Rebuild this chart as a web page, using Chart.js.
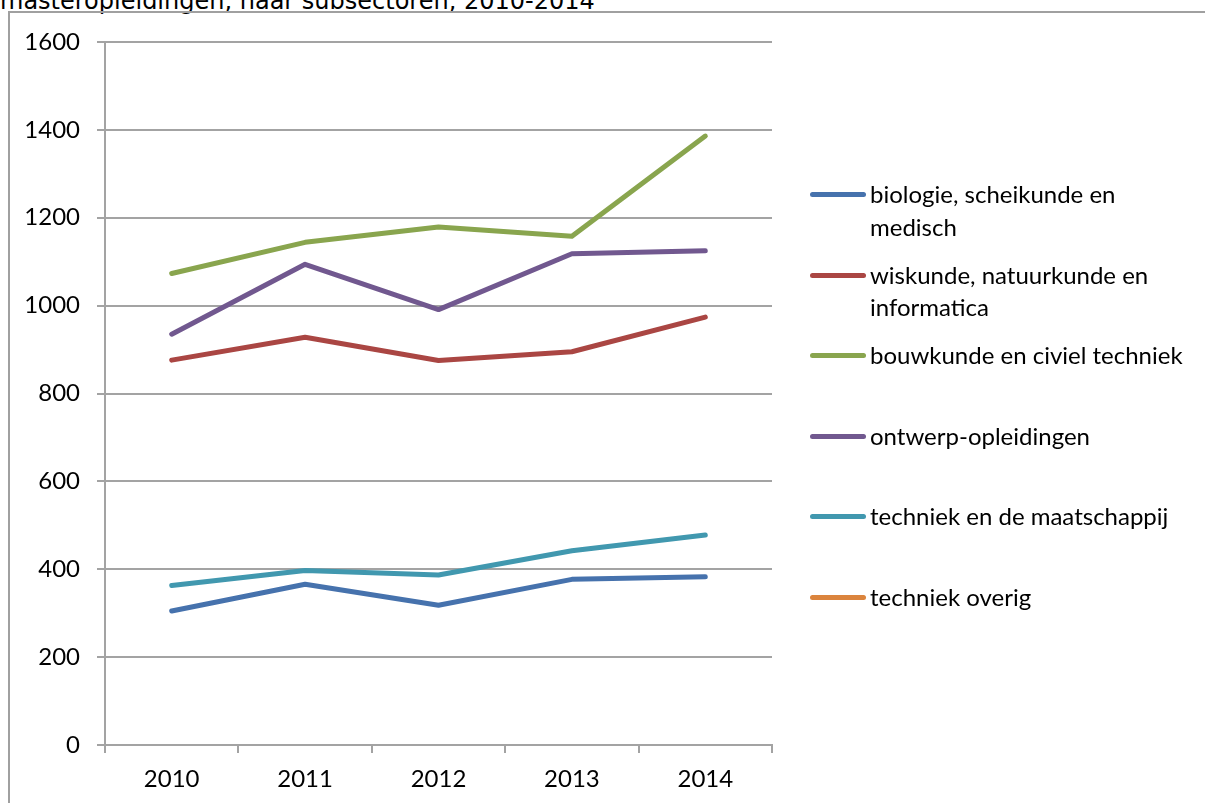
<!DOCTYPE html>
<html>
<head>
<meta charset="utf-8">
<script src="https://cdn.jsdelivr.net/npm/chart.js@4.4.1/dist/chart.umd.min.js"></script>
<style>
    html, body {
        margin: 0;
        padding: 0;
        background: #ffffff;
        overflow: hidden;
    }
    #titel {
        position: absolute;
        left: 0;
        top: -11px;
        font-family: 'DejaVu Sans', sans-serif;
        font-size: 24px;
        line-height: 24px;
        color: #000;
        white-space: nowrap;
    }
    #kader {
        position: absolute;
        left: 8px;
        top: 11px;
        width: 1400px;
        height: 1000px;
        border: 2px solid #a0a0a0;
    }
    #grafiek {
        position: absolute;
        left: 0;
        top: 0;
    }
    .legenda-item {
        position: absolute;
        left: 810px;
        font-family: Lato, sans-serif;
        font-size: 24px;
        line-height: 32.5px;
        color: #000;
    }
    .legenda-lijn {
        position: absolute;
        left: 0;
        top: 14px;
        width: 56px;
        height: 5px;
        border-radius: 3px;
    }
    .legenda-tekst {
        position: absolute;
        left: 60px;
        white-space: nowrap;
    }
</style>
</head>
<body>

<div id="titel">masteropleidingen, naar subsectoren, 2010-2014</div>
<div id="kader"></div>
<canvas id="grafiek" width="1205" height="803" style="width:1205px;height:803px"></canvas>
<div id="legenda"></div>

<script>

    const jaren = ['2010', '2011', '2012', '2013', '2014'];

    // legend labels, split where the original wraps
    const namen = [
        ['biologie, scheikunde en', 'medisch'],
        ['wiskunde, natuurkunde en', 'informatica'],
        ['bouwkunde en civiel techniek'],
        ['ontwerp-opleidingen'],
        ['techniek en de maatschappij'],
        ['techniek overig']
    ];

    const biologie = [305, 366, 318, 377, 383];
    const wiskunde = [876, 928, 875, 895, 974];
    const bouwkunde = [1073, 1144, 1179, 1158, 1386];
    const ontwerp = [935, 1094, 991, 1118, 1125];
    const maatschappij = [363, 397, 387, 442, 478];
    const overig = [null, null, null, null, null];

    const yTicks = [0, 200, 400, 600, 800, 1000, 1200, 1400, 1600];

    const kleuren = [
        '#4672ad',
        '#aa4643',
        '#89a54e',
        '#71588f',
        '#4198af',
        '#db843d'
    ];

    const reeksen = [
        biologie,
        wiskunde,
        bouwkunde,
        ontwerp,
        maatschappij,
        overig
    ];

    const rasterKleur = '#a3a3a3';

    const datasets = reeksen.map((waarden, i) => ({
        label: namen[i].join(' '),
        data: waarden,
        borderColor: kleuren[i],
        backgroundColor: kleuren[i],
        borderWidth: 5,
        borderCapStyle: 'round',
        borderJoinStyle: 'round',
        pointRadius: 0,
        tension: 0,
        fill: false
    }));

    const grafiek = new Chart(
        document.getElementById('grafiek'),
        {
            type: 'line',
            data: {
                labels: jaren,
                datasets: datasets
            },
            options: {
                responsive: false,
                animation: false,
                devicePixelRatio: 1,
                layout: {
                    padding: { top: 42, right: 433, bottom: 0, left: 0 }
                },
                plugins: {
                    legend: { display: false },
                    tooltip: { enabled: false }
                },
                scales: {
                    x: {
                        offset: true,
                        afterFit: s => { s.height = 58; },
                        grid: {
                            offset: true,
                            drawOnChartArea: false,
                            drawTicks: true,
                            tickLength: 8,
                            color: rasterKleur,
                            lineWidth: 2
                        },
                        border: {
                            display: true,
                            color: rasterKleur,
                            width: 2
                        },
                        ticks: {
                            color: '#000',
                            padding: 12,
                            maxRotation: 0,
                            font: { family: 'Lato', size: 24 }
                        }
                    },
                    y: {
                        min: 0,
                        max: 1600,
                        afterFit: s => { s.width = 105; },
                        afterBuildTicks: s => {
                            s.ticks = yTicks.map(v => ({ value: v }));
                        },
                        grid: {
                            color: rasterKleur,
                            lineWidth: 2,
                            drawTicks: true,
                            tickLength: 8
                        },
                        border: {
                            display: true,
                            color: rasterKleur,
                            width: 2
                        },
                        ticks: {
                            color: '#000',
                            padding: 17,
                            font: { family: 'Lato', size: 24 },
                            callback: v => String(v)
                        }
                    }
                }
            }
        }
    );

    // legend on the right, drawn as html so the labels can wrap
    const legenda = document.getElementById('legenda');

    grafiek.data.datasets.forEach((ds, i) => {

        const item = document.createElement('div');
        item.className = 'legenda-item';
        item.style.top = (194.3 + i * 80.5 - 16.25) + 'px';

        const lijn = document.createElement('span');
        lijn.className = 'legenda-lijn';
        lijn.style.background = ds.borderColor;

        const tekst = document.createElement('span');
        tekst.className = 'legenda-tekst';
        tekst.innerHTML = namen[i].join('<br>');

        item.appendChild(lijn);
        item.appendChild(tekst);
        legenda.appendChild(item);
    });

</script>
</body>
</html>
